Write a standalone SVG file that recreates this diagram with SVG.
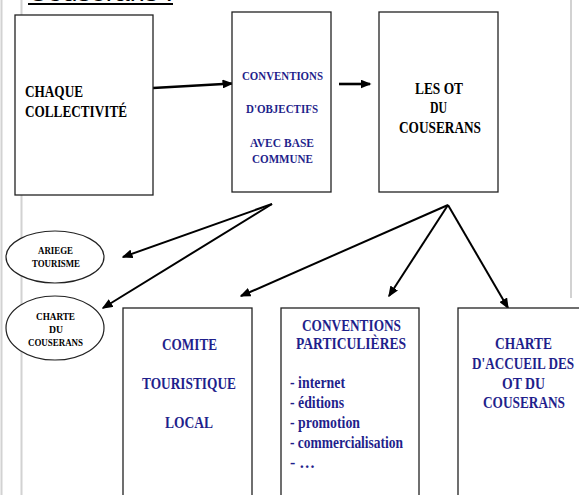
<svg xmlns="http://www.w3.org/2000/svg" width="579" height="495" viewBox="0 0 579 495">
<defs>
<style>
.box{fill:#fff;stroke:#222;stroke-width:1.3}
.ell{fill:#fff;stroke:#222;stroke-width:1.2}
.t{font-family:"Liberation Serif","Times New Roman",serif;font-weight:bold;fill:#000}
.b{fill:#1f1f8c}
.s17{font-size:17px}
.s13{font-size:13.5px}
.s10{font-size:10px}
.s16{font-size:16px}
.guide{stroke:#d2d2d2;stroke-width:2;fill:none}
.con{stroke:#000;fill:none}
</style>
<marker id="ah" markerUnits="userSpaceOnUse" markerWidth="11" markerHeight="9" refX="9.5" refY="4.5" orient="auto">
<path d="M0,0 L11,4.5 L0,9 z" fill="#000"/>
</marker>
</defs>
<rect width="579" height="495" fill="#fff"/>
<g id="guides">
<line class="guide" x1="1.5" y1="0" x2="1.5" y2="495"/>
<line class="guide" x1="21.5" y1="0" x2="21.5" y2="495"/>
<line class="guide" x1="571" y1="0" x2="571" y2="298"/>
</g>
<g id="title">
<text x="28" y="1.2" font-family="Liberation Sans, Arial, sans-serif" font-size="24" textLength="145" lengthAdjust="spacingAndGlyphs">Couserans :</text>
<line x1="28" y1="4" x2="173" y2="4" stroke="#000" stroke-width="2"/>
</g>
<g id="connectors">
<line class="con" stroke-width="2.6" x1="153" y1="88" x2="232" y2="83.5" marker-end="url(#ah)"/>
<line class="con" stroke-width="2.6" x1="339" y1="84" x2="370" y2="84" marker-end="url(#ah)"/>
<line class="con" stroke-width="2" x1="272" y1="204" x2="123" y2="257" marker-end="url(#ah)"/>
<line class="con" stroke-width="2" x1="272" y1="204" x2="103" y2="308" marker-end="url(#ah)"/>
<line class="con" stroke-width="2" x1="448" y1="205" x2="241" y2="296" marker-end="url(#ah)"/>
<line class="con" stroke-width="2" x1="448" y1="205" x2="389" y2="296" marker-end="url(#ah)"/>
<line class="con" stroke-width="2" x1="448" y1="205" x2="508" y2="308" marker-end="url(#ah)"/>
</g>
<g id="chaque">
<rect class="box" x="15" y="15" width="138" height="180"/>
<text class="t s17" x="25" y="97" textLength="58" lengthAdjust="spacingAndGlyphs">CHAQUE</text>
<text class="t s17" x="25" y="117" textLength="102" lengthAdjust="spacingAndGlyphs">COLLECTIVITÉ</text>
</g>
<g id="conventions">
<rect class="box" x="232" y="12" width="99" height="180"/>
<text class="t b s13" x="242" y="80" textLength="81" lengthAdjust="spacingAndGlyphs">CONVENTIONS</text>
<text class="t b s13" x="246" y="113" textLength="72" lengthAdjust="spacingAndGlyphs">D'OBJECTIFS</text>
<text class="t b s13" x="250" y="147" textLength="64" lengthAdjust="spacingAndGlyphs">AVEC BASE</text>
<text class="t b s13" x="252" y="163" textLength="61" lengthAdjust="spacingAndGlyphs">COMMUNE</text>
</g>
<g id="lesot">
<rect class="box" x="379" y="12" width="119" height="180"/>
<text class="t s17" x="415" y="94" textLength="48" lengthAdjust="spacingAndGlyphs">LES OT</text>
<text class="t s17" x="430" y="113" textLength="17" lengthAdjust="spacingAndGlyphs">DU</text>
<text class="t s17" x="399" y="133" textLength="82" lengthAdjust="spacingAndGlyphs">COUSERANS</text>
</g>
<g id="ariege">
<ellipse class="ell" cx="55" cy="257" rx="49" ry="26"/>
<text class="t s10" x="38" y="254" textLength="35" lengthAdjust="spacingAndGlyphs">ARIEGE</text>
<text class="t s10" x="32" y="267" textLength="48" lengthAdjust="spacingAndGlyphs">TOURISME</text>
</g>
<g id="charte-couserans">
<ellipse class="ell" cx="55" cy="328" rx="49" ry="32"/>
<text class="t s10" x="36" y="320" textLength="39" lengthAdjust="spacingAndGlyphs">CHARTE</text>
<text class="t s10" x="49" y="333" textLength="14" lengthAdjust="spacingAndGlyphs">DU</text>
<text class="t s10" x="28" y="346" textLength="55" lengthAdjust="spacingAndGlyphs">COUSERANS</text>
</g>
<g id="comite">
<rect class="box" x="123" y="308" width="129" height="200"/>
<text class="t b s17" x="162" y="350" textLength="55" lengthAdjust="spacingAndGlyphs">COMITE</text>
<text class="t b s17" x="142" y="389" textLength="94" lengthAdjust="spacingAndGlyphs">TOURISTIQUE</text>
<text class="t b s17" x="165" y="428" textLength="48" lengthAdjust="spacingAndGlyphs">LOCAL</text>
</g>
<g id="particulieres">
<rect class="box" x="281" y="308" width="138" height="200"/>
<text class="t b s17" x="302" y="331" textLength="99" lengthAdjust="spacingAndGlyphs">CONVENTIONS</text>
<text class="t b s17" x="296" y="349" textLength="110" lengthAdjust="spacingAndGlyphs">PARTICULIÈRES</text>
<text class="t b s16" x="290" y="388" textLength="55" lengthAdjust="spacingAndGlyphs">- internet</text>
<text class="t b s16" x="290" y="408" textLength="54" lengthAdjust="spacingAndGlyphs">- éditions</text>
<text class="t b s16" x="290" y="428" textLength="70" lengthAdjust="spacingAndGlyphs">- promotion</text>
<text class="t b s16" x="290" y="448" textLength="113" lengthAdjust="spacingAndGlyphs">- commercialisation</text>
<text class="t b s16" x="290" y="468" textLength="25" lengthAdjust="spacingAndGlyphs">- …</text>
</g>
<g id="charte-accueil">
<rect class="box" x="458" y="308" width="140" height="200"/>
<text class="t b s17" x="495" y="349" textLength="57" lengthAdjust="spacingAndGlyphs">CHARTE</text>
<text class="t b s17" x="472" y="369" textLength="102" lengthAdjust="spacingAndGlyphs">D'ACCUEIL DES</text>
<text class="t b s17" x="502" y="389" textLength="43" lengthAdjust="spacingAndGlyphs">OT DU</text>
<text class="t b s17" x="483" y="408" textLength="82" lengthAdjust="spacingAndGlyphs">COUSERANS</text>
</g>
</svg>
